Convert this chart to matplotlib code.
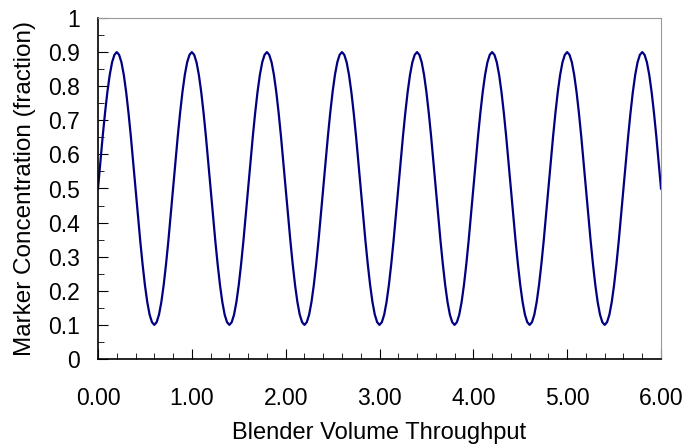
import matplotlib

matplotlib.use("Agg")
import matplotlib.pyplot as plt
import numpy as np
from matplotlib.ticker import FormatStrFormatter, MultipleLocator

plt.rcParams["font.family"] = ["Liberation Sans", "DejaVu Sans"]

STEP = 0.025
CYCLE = [
    0.500, 0.578, 0.653, 0.722, 0.783, 0.833, 0.870, 0.892,
    0.900, 0.892, 0.870, 0.833, 0.783, 0.722, 0.653, 0.578,
    0.500, 0.422, 0.347, 0.278, 0.217, 0.167, 0.130, 0.108,
    0.100, 0.108, 0.130, 0.167, 0.217, 0.278, 0.347, 0.422,
]
N_POINTS = 241  # 0.00 .. 6.00

Y_TICK_LABELS = ["0", "0.1", "0.2", "0.3", "0.4", "0.5", "0.6", "0.7", "0.8", "0.9", "1"]
X_LABEL = "Blender Volume Throughput"
Y_LABEL = "Marker Concentration (fraction)"


def main() -> None:
    conc = np.tile(CYCLE, 8)[:N_POINTS]
    volume = np.arange(N_POINTS) * STEP

    fig = plt.figure(figsize=(6.88, 4.48), dpi=100)
    ax = fig.add_axes([98 / 688, 1 - 359 / 448, 563 / 688, 341 / 448])
    ax.plot(volume, conc, color="#000080", linewidth=1.6)

    ax.set_xlim(0, 6)
    ax.set_ylim(0, 1)
    ax.xaxis.set_major_locator(MultipleLocator(1))
    ax.xaxis.set_minor_locator(MultipleLocator(0.2))
    ax.xaxis.set_major_formatter(FormatStrFormatter("%.2f"))
    ax.yaxis.set_minor_locator(MultipleLocator(0.05))
    ax.set_yticks(np.arange(0, 1.01, 0.1))
    ax.set_yticklabels(Y_TICK_LABELS)

    ax.tick_params(which="both", direction="in", labelsize=16.5, color="black")
    ax.tick_params(axis="x", which="major", length=7, pad=20)
    ax.tick_params(axis="y", which="major", length=7, pad=13)
    ax.tick_params(which="minor", length=4)
    ax.tick_params(top=False, right=False, which="both")

    for side in ("top", "right"):
        ax.spines[side].set_color("#999999")
    for side in ("left", "bottom"):
        ax.spines[side].set_linewidth(1.2)

    ax.set_xlabel(X_LABEL, fontsize=17, labelpad=9)
    ax.set_ylabel(Y_LABEL, fontsize=17.5, labelpad=9)

    fig.savefig("out.png", dpi=100)
    plt.close(fig)


if __name__ == "__main__":
    main()
